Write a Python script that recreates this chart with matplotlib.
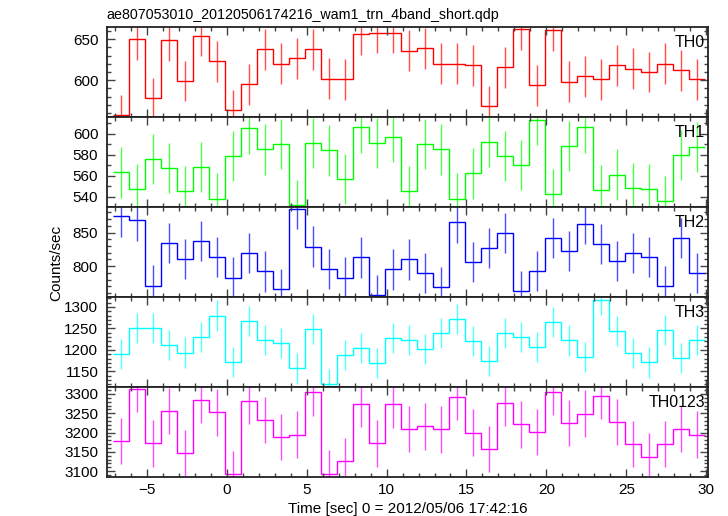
import numpy as np
import matplotlib
matplotlib.use("Agg")
import matplotlib.pyplot as plt
from matplotlib.ticker import MultipleLocator

plt.rcParams["font.family"] = ["Liberation Sans", "DejaVu Sans"]

# bin centres (1 s bins)
time = np.arange(-6.6, 29.5, 1.0)

th0 = [557, 650, 578, 649, 599, 654, 623, 563, 595, 638, 620, 627, 638, 602, 601,
       656, 658, 658, 636, 639, 620, 620, 618, 568, 616, 662, 594, 661, 598, 605,
       601, 618, 614, 610, 620, 612, 601]
th1 = [563, 547, 576, 567, 545, 568, 538, 579, 605, 585, 590, 532, 591, 584, 557,
       606, 591, 597, 545, 590, 585, 538, 562, 592, 579, 570, 613, 542, 588, 606,
       546, 561, 548, 547, 536, 580, 587]
th2 = [874, 868, 771, 834, 811, 837, 814, 783, 819, 792, 766, 885, 829, 796, 783,
       813, 757, 795, 810, 790, 769, 865, 806, 827, 849, 763, 793, 842, 822, 863,
       833, 808, 820, 814, 770, 842, 790]
th3 = [1190, 1250, 1250, 1211, 1194, 1231, 1280, 1173, 1267, 1223, 1217, 1157, 1249,
       1120, 1189, 1205, 1170, 1228, 1224, 1203, 1240, 1272, 1220, 1175, 1239, 1230,
       1206, 1264, 1222, 1183, 1317, 1245, 1193, 1171, 1247, 1182, 1223]
th0123 = [3178, 3313, 3172, 3256, 3146, 3285, 3252, 3092, 3281, 3233, 3188, 3195, 3304,
          3094, 3126, 3275, 3172, 3273, 3209, 3216, 3208, 3292, 3200, 3158, 3277, 3221,
          3201, 3305, 3224, 3249, 3295, 3227, 3170, 3138, 3170, 3210, 3195]

names = ["TH0", "TH1", "TH2", "TH3", "TH0123"]
series = [th0, th1, th2, th3, th0123]
errors = [25, 24, 30, 35, 60]
colors = ["#ff0000", "#00ff00", "#0000ff", "#00ffff", "#ff00ff"]
ylims = [(555, 665), (530, 616), (754, 888), (1114, 1323), (3085, 3318)]
ymajor = [50, 20, 50, 50, 50]

fig, axes = plt.subplots(5, 1, figsize=(7.28, 5.16), dpi=100, sharex=True)
fig.subplots_adjust(left=0.1465, right=0.9725, bottom=0.0756, top=0.9477, hspace=0)

edges = np.append(time - 0.5, time[-1] + 0.5)

for ax, name, vals, err, col, yl, maj in zip(axes, names, series, errors, colors, ylims, ymajor):
    ax.stairs(vals, edges, baseline=None, color=col, lw=1.0)
    ax.errorbar(time, vals, yerr=err, fmt="none", ecolor=col, elinewidth=1.0,
                capsize=0, alpha=0.7)
    ax.set_xlim(-7.5, 30.1)
    ax.set_ylim(*yl)
    ax.yaxis.set_major_locator(MultipleLocator(maj))
    ax.yaxis.set_minor_locator(MultipleLocator(10))
    ax.xaxis.set_major_locator(MultipleLocator(5))
    ax.xaxis.set_minor_locator(MultipleLocator(1))
    ax.tick_params(which="both", direction="in", top=True, right=True,
                   color="#444444", labelsize=11)
    ax.tick_params(which="major", length=6, width=1)
    ax.tick_params(which="minor", length=3, width=1)
    ax.tick_params(axis="y", pad=6)
    ax.tick_params(axis="x", pad=4)
    for s in ax.spines.values():
        s.set_linewidth(1.3)
        s.set_color("#222222")
    ax.text(0.995, 0.91, name, transform=ax.transAxes, ha="right", va="top",
            fontsize=11.5)

axes[0].set_title("ae807053010_20120506174216_wam1_trn_4band_short.qdp",
                  loc="left", fontsize=10.3, pad=6)
axes[-1].set_xlabel("Time [sec] 0 = 2012/05/06 17:42:16", fontsize=11, labelpad=4)
fig.text(0.077, 0.49, "Counts/sec", rotation=90, ha="center", va="center", fontsize=11)

plt.savefig("out.png", dpi=100)
